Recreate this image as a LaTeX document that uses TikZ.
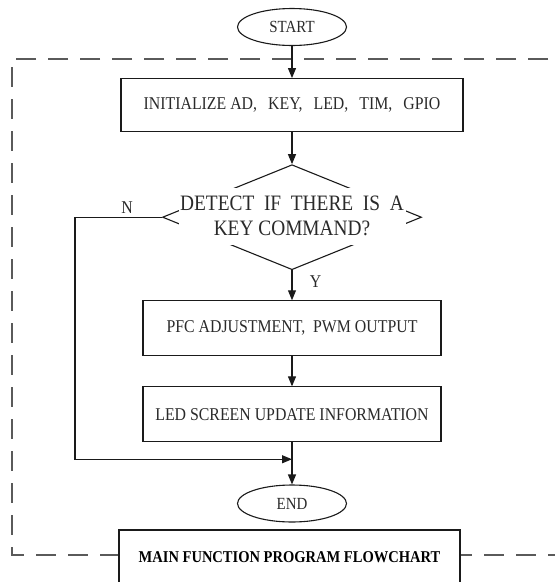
\documentclass[tikz,border=0pt]{standalone}
\usepackage{fontspec}
\setmainfont{Liberation Serif}[FakeStretch=0.88]
\usepackage{tikz}
\usetikzlibrary{
  arrows.meta,
  calc,
  positioning,
  shapes.geometric
}
\definecolor{lineCol}{HTML}{1A1A1A}
\definecolor{textCol}{HTML}{2A2A2A}
\definecolor{frameCol}{HTML}{5A5A5A}
\newcommand{\boxfont}{\fontsize{18}{21}\selectfont}
\newcommand{\gap}{\hspace{11pt}}
\tikzset{
  terminal/.style={
    ellipse,
    draw=lineCol,
    line width=1.1pt,
    minimum width=109pt,
    minimum height=37pt,
    inner sep=2pt,
    text=textCol,
    font=\fontsize{17}{20}\selectfont
  },
  process/.style={
    draw=lineCol,
    line width=1.1pt,
    minimum height=55pt,
    text=textCol,
    font=\boxfont
  },
  decision/.style={
    diamond,
    draw=lineCol,
    line width=1.1pt,
    minimum width=259pt,
    minimum height=105pt,
    inner sep=0pt
  },
  decisiontext/.style={
    fill=white,
    align=center,
    minimum width=227pt,
    minimum height=57pt,
    inner sep=0pt,
    text=textCol,
    font=\fontsize{22}{25}\selectfont
  },
  titlebox/.style={
    draw=lineCol,
    fill=white,
    line width=1.1pt,
    minimum width=341pt,
    inner sep=4pt,
    text height=28pt,
    text depth=34pt,
    font=\fontsize{16.5}{19}\selectfont\bfseries
  },
  arr/.style={-{Triangle[length=10pt, width=8pt]}, line width=1.1pt, draw=lineCol},
  frame/.style={draw=frameCol, line width=1.4pt, dash pattern=on 20pt off 12pt},
  lbl/.style={text=textCol, font=\fontsize{18}{21}\selectfont}
}

\begin{document}
\begin{tikzpicture}[x=1pt, y=-1pt, node distance=30pt]
\useasboundingbox (0,0) rectangle (555,582);

% --- Dashed frame ---
\draw[frame] (580,59) -| (12,555) -- (580,555);

% --- Flow nodes ---
\node[terminal] (start) at (292,27) {START};

\node[process, below=32pt of start, minimum width=342pt, minimum height=53pt] (init) {
  INITIALIZE AD,\gap KEY,\gap LED,\gap TIM,\gap GPIO
};

\node[decision, below=32pt of init] (detect) {};
\node[decisiontext] (detecttext) at ($(detect.center)+(0,-1)$) {DETECT~ IF~ THERE~ IS~ A\\KEY COMMAND?};

\node[process, below=of detect, minimum width=298pt] (pfc) {PFC ADJUSTMENT,~ PWM OUTPUT};

\node[process, below=of pfc, minimum width=298pt] (led) {LED SCREEN UPDATE INFORMATION};

\node[terminal, below=42pt of led] (end) {END};

\node[titlebox] (title) at (289.5,565) {MAIN FUNCTION PROGRAM FLOWCHART};

% --- Connectors ---
\coordinate (join) at ($(led.south)!0.4!(end.north)$);

\draw[arr] (start.south) -- (init.north);
\draw[arr] (init.south) -- (detect.north);
\draw[arr] (detect.south) -- node[lbl, pos=0.37, right=14pt] (ylbl) {Y} (pfc.north);
\draw[arr] (pfc.south) -- (led.north);
\draw[arr] (led.south) -- (end.north);
\draw[arr] (detect.west) -- node[lbl, pos=0.4, above] (nlbl) {N} ++(-87,0) |- (join);

\end{tikzpicture}
\end{document}
